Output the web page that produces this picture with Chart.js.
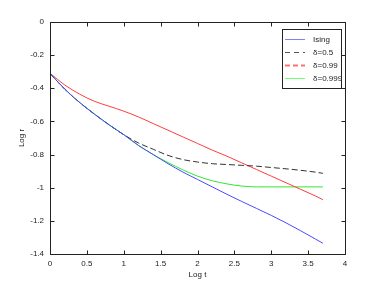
<!DOCTYPE html>
<html>
<head>
<meta charset="utf-8">
<script src="https://cdn.jsdelivr.net/npm/chart.js@4/dist/chart.umd.min.js"></script>
<style>
	html, body { margin: 0; padding: 0; background: #fff; }
	#wrap { width: 382px; height: 286px; }
</style>
</head>
<body>
<div id="wrap"><canvas id="chart_log"></canvas></div>
<script>
	'use strict';

	/* =========== Data ======================================= */
	var logT      = [0, 0.2, 0.4, 0.6, 0.8, 1.0, 1.2, 1.4, 1.6, 1.8, 2.0, 2.2, 2.4, 2.6, 2.8, 3.0, 3.2, 3.4, 3.6, 3.7];
	var ising     = [-0.31, -0.405, -0.485, -0.555, -0.62, -0.68, -0.745, -0.80, -0.855, -0.905, -0.95, -0.995, -1.04, -1.083, -1.125, -1.167, -1.212, -1.26, -1.31, -1.335];
	var delta05   = [-0.31, -0.405, -0.485, -0.555, -0.62, -0.68, -0.73, -0.768, -0.805, -0.83, -0.845, -0.855, -0.86, -0.865, -0.87, -0.878, -0.886, -0.895, -0.906, -0.913];
	var delta099  = [-0.31, -0.38, -0.435, -0.478, -0.508, -0.538, -0.573, -0.613, -0.653, -0.693, -0.733, -0.773, -0.81, -0.85, -0.89, -0.93, -0.97, -1.01, -1.05, -1.072];
	var delta0999 = [-0.31, -0.405, -0.485, -0.555, -0.62, -0.68, -0.745, -0.80, -0.848, -0.892, -0.93, -0.958, -0.977, -0.99, -0.995, -0.995, -0.995, -0.995, -0.995, -0.995];
	var seriesNames = ['Ising', 'δ=0.5', 'δ=0.99', 'δ=0.999'];
	var xTicks = [0, 0.5, 1, 1.5, 2, 2.5, 3, 3.5, 4];
	var xTickLabels = ['0', '0.5', '1', '1.5', '2', '2.5', '3', '3.5', '4'];
	var yTicks = [-1.4, -1.2, -1, -0.8, -0.6, -0.4, -0.2, 0];
	var yTickLabels = ['-1.4', '-1.2', '-1', '-0.8', '-0.6', '-0.4', '-0.2', '0'];
	/* ------------------------------------------------ */

	function points(ys) {
		return logT.map(function (t, i) { return {x: t, y: ys[i]}; });
	}

	var FONT = {family: 'Liberation Sans', size: 8};
	var INK = '#222';

	/* =========== Matlab style box, inward ticks and legend ================= */
	var matlabBox = {
		id: 'matlabBox',
		afterDatasetsDraw: function (chart) {
			var ctx = chart.ctx, a = chart.chartArea;
			var sx = chart.scales.x, sy = chart.scales.y;
			var L = Math.round(a.left) + 0.5, R = Math.round(a.right) + 0.5;
			var T = Math.round(a.top) + 0.5, B = Math.round(a.bottom) + 0.5;
			var tl = 4;
			ctx.save();
			ctx.strokeStyle = INK;
			ctx.lineWidth = 1;
			ctx.setLineDash([]);
			ctx.strokeRect(L, T, R - L, B - T);
			ctx.beginPath();
			xTicks.forEach(function (v) {
				var px = Math.round(sx.getPixelForValue(v)) + 0.5;
				ctx.moveTo(px, B); ctx.lineTo(px, B - tl);
				ctx.moveTo(px, T); ctx.lineTo(px, T + tl);
			});
			yTicks.forEach(function (v) {
				var py = Math.round(sy.getPixelForValue(v)) + 0.5;
				ctx.moveTo(L, py); ctx.lineTo(L + tl, py);
				ctx.moveTo(R, py); ctx.lineTo(R - tl, py);
			});
			ctx.stroke();

			// legend box (top right, inside the axes)
			var bx = 282.5, by = 29.5, bw = 59, bh = 59;
			ctx.fillStyle = '#fff';
			ctx.fillRect(bx, by, bw, bh);
			ctx.strokeRect(bx, by, bw, bh);
			ctx.font = FONT.size + 'px ' + FONT.family;
			ctx.textBaseline = 'middle';
			ctx.textAlign = 'left';
			chart.data.datasets.forEach(function (ds, i) {
				var yy = Math.round(38.5 + i * 13) + 0.5;
				ctx.strokeStyle = ds.legendColor || ds.borderColor;
				ctx.lineWidth = ds.legendWidth || 1;
				ctx.setLineDash(ds.legendDash || []);
				ctx.beginPath();
				ctx.moveTo(285, yy); ctx.lineTo(305, yy);
				ctx.stroke();
				ctx.fillStyle = INK;
				ctx.fillText(ds.label, 313, yy);
			});
			ctx.restore();
		}
	};
	/* ------------------------------------------------ */

	var ctx = document.getElementById('chart_log');
	var chart_log = new Chart(ctx, {
		type: 'line',
		data: {
			datasets: [{
				label: seriesNames[0],
				data: points(ising),
				borderColor: '#4a4aff',
				legendColor: '#8080ff'
			}, {
				label: seriesNames[1],
				data: points(delta05),
				borderColor: '#333333',
				borderDash: [6, 3],
				legendDash: [5, 4],
				legendColor: '#555555'
			}, {
				label: seriesNames[2],
				data: points(delta099),
				borderColor: '#ff3c3c',
				legendDash: [5, 3],
				legendWidth: 2,
				legendColor: '#ff7070'
			}, {
				label: seriesNames[3],
				data: points(delta0999),
				borderColor: '#2ee82e',
				legendColor: '#70ff70'
			}]
		},
		options: {
			responsive: true,
			maintainAspectRatio: false,
			animation: false,
			layout: {padding: {left: 0, right: 37, top: 22, bottom: 0}},
			elements: {
				point: {radius: 0},
				line: {borderWidth: 1, cubicInterpolationMode: 'monotone', fill: false}
			},
			plugins: {
				legend: {display: false},
				tooltip: {enabled: false}
			},
			scales: {
				x: {
					type: 'linear',
					min: 0,
					max: 4,
					grid: {display: false, drawTicks: false},
					border: {display: false},
					afterBuildTicks: function (s) { s.ticks = xTicks.map(function (v) { return {value: v}; }); },
					afterFit: function (s) { s.height = 32; },
					ticks: {
						autoSkip: false,
						maxRotation: 0,
						padding: 5,
						color: INK,
						font: FONT,
						callback: function (v) { return xTickLabels[xTicks.indexOf(v)]; }
					},
					title: {display: true, text: 'Log t', color: INK, font: FONT, padding: {top: 0, bottom: 6}}
				},
				y: {
					type: 'linear',
					min: -1.4,
					max: 0,
					grid: {display: false, drawTicks: false},
					border: {display: false},
					afterBuildTicks: function (s) { s.ticks = yTicks.map(function (v) { return {value: v}; }); },
					afterFit: function (s) { s.width = 50; },
					ticks: {
						autoSkip: false,
						padding: 6,
						color: INK,
						font: FONT,
						callback: function (v) { return yTickLabels[yTicks.indexOf(v)]; }
					},
					title: {display: true, text: 'Log r', color: INK, font: FONT, padding: {top: 17, bottom: 0}}
				}
			}
		},
		plugins: [matlabBox]
	});
</script>
</body>
</html>
